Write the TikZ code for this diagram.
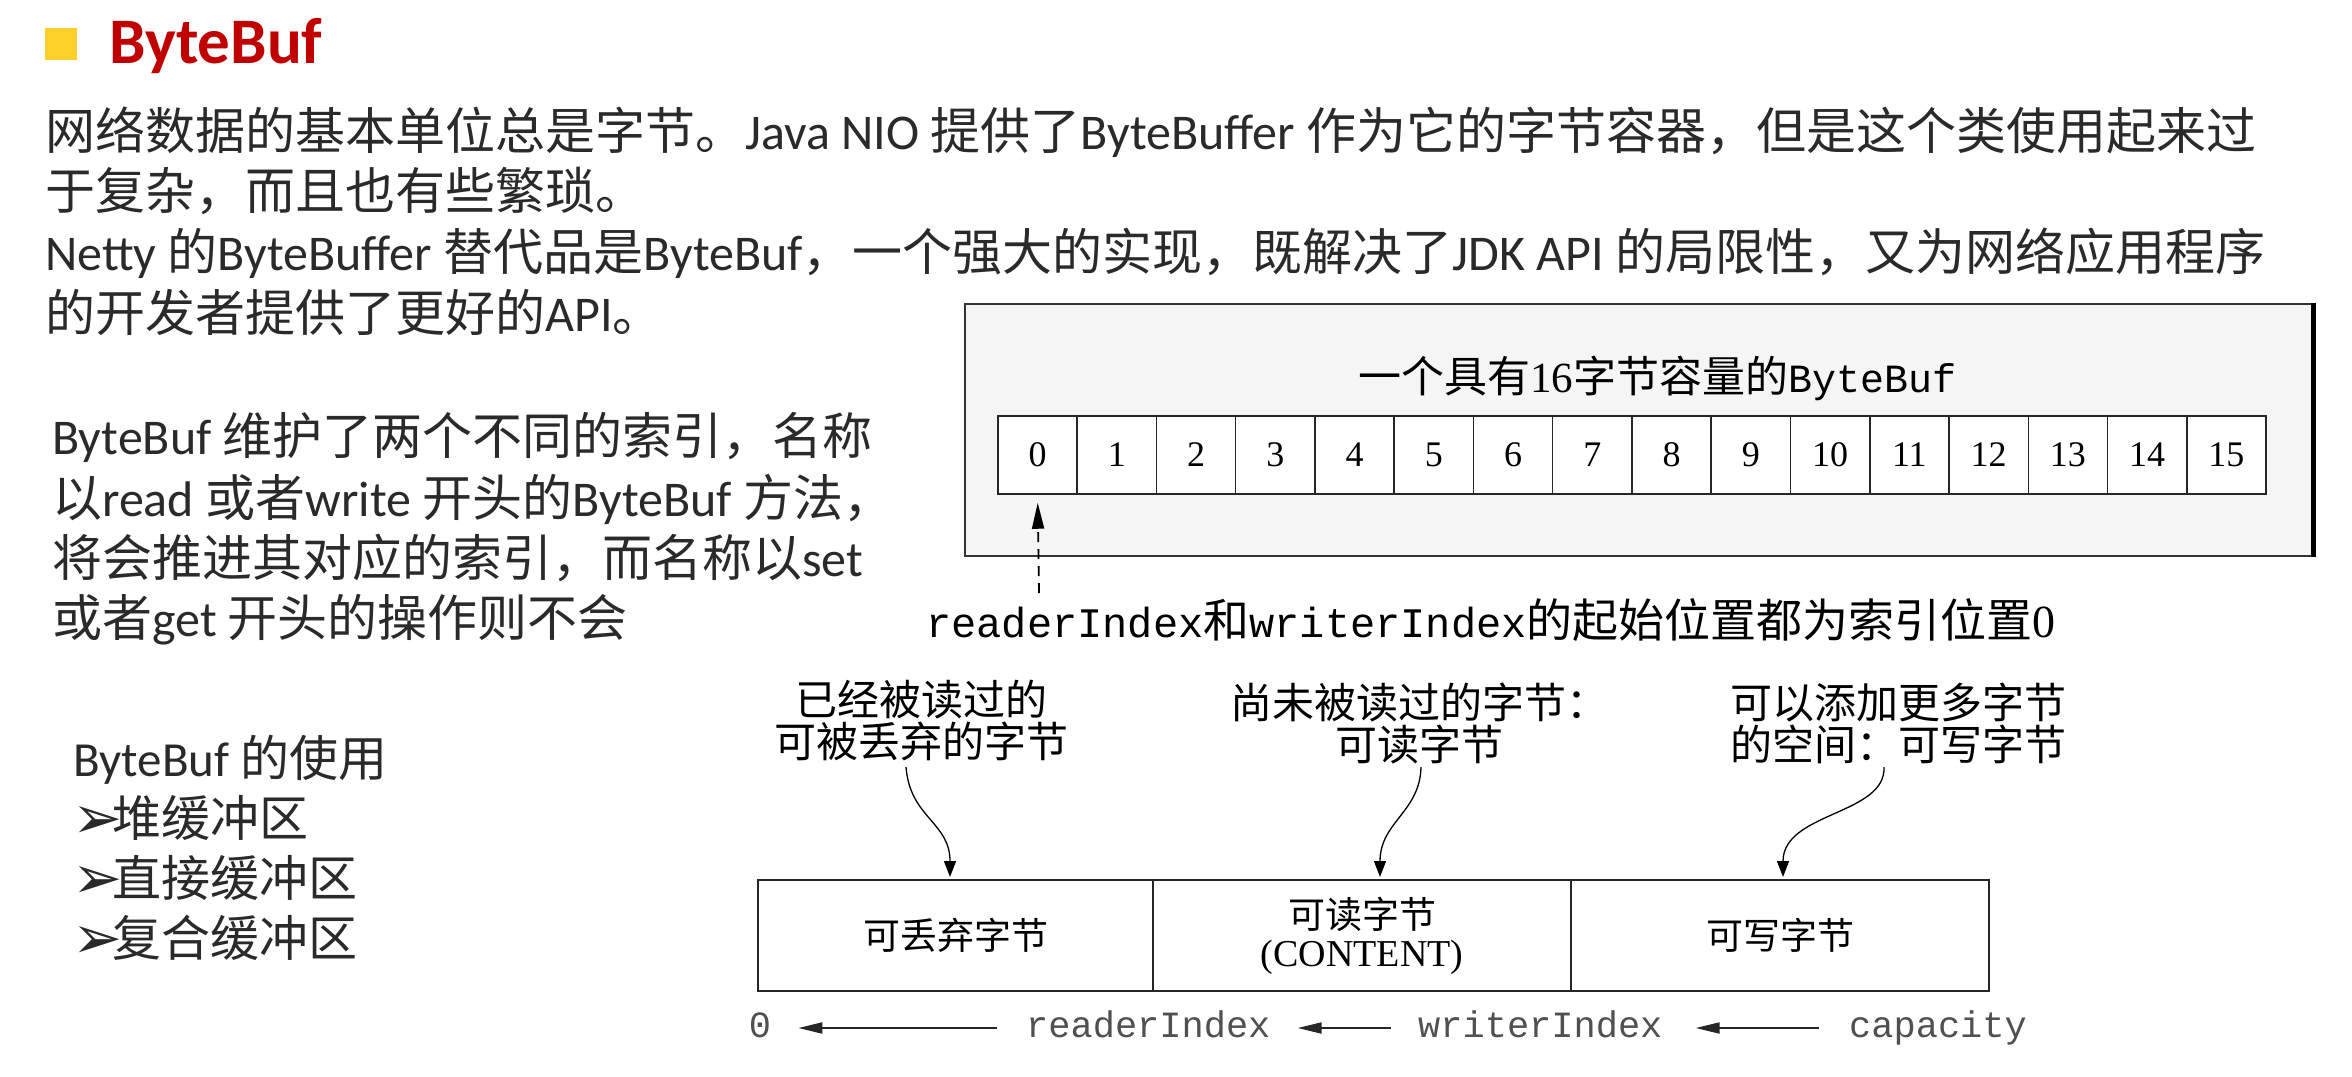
\documentclass[tikz,border=0pt]{standalone}
\usepackage{fontspec}
\setmainfont{Noto Sans CJK SC}
\newfontfamily\fcal{Carlito}
\newfontfamily\fserif{Liberation Serif}
\newfontfamily\fmono{Liberation Mono}
\newfontfamily\fsym{DejaVu Sans}
\usetikzlibrary{arrows.meta}
\definecolor{titlered}{HTML}{C00000}
\definecolor{bullety}{HTML}{FFD02A}
\definecolor{txt}{HTML}{2A2A2A}
\definecolor{boxfill}{HTML}{F5F5F5}
\definecolor{idxgray}{HTML}{505050}
\newcommand\La[1]{{\fcal #1}}
\newcommand\Ms[2]{{\fmono\fontsize{#1}{#1}\selectfont #2}}
\newcommand\Sf[2]{{\fserif\fontsize{#1}{#1}\selectfont #2}}
\newcommand\Bul{\makebox[40pt][l]{\fsym\fontsize{60}{60}\selectfont\raisebox{-2pt}{➢}}}
\begin{document}
\begin{tikzpicture}[x=1pt,y=-1pt,
  para/.style={anchor=base west, inner sep=0pt, text=txt, font=\fontsize{50}{60}\selectfont},
  list/.style={anchor=base west, inner sep=0pt, text=txt, font=\fontsize{49}{58}\selectfont},
  cell/.style={draw=black!85, fill=white, line width=1.5pt, minimum width=79.25pt, minimum height=78pt, inner sep=0pt, font=\fserif\fontsize{36}{36}\selectfont},
  seg/.style={draw=black!85, fill=white, line width=2.2pt, inner sep=0pt, minimum height=111pt, align=center, font=\fontsize{37}{38}\selectfont},
  toplbl/.style={inner sep=0pt, align=center, font=\fontsize{42}{42}\selectfont},
  carrow/.style={line width=1.3pt, -{Triangle[length=16pt,width=12pt]}},
  iarrow/.style={line width=2pt, draw=black!85, -{Triangle[length=24pt,width=11pt]}},
  idx/.style={inner sep=0pt, text=idxgray, font=\fmono\fontsize{37}{37}\selectfont}
]
\fill[white] (0,0) rectangle (2352,1076);
\useasboundingbox (0,0) rectangle (2352,1076);

% title
\node[fill=bullety, minimum size=32pt, inner sep=0pt] (sq) at (61,44) {};
\node[anchor=base west, inner sep=0pt, text=titlered, font=\fcal\bfseries\fontsize{65}{70}\selectfont] (title) at (109,63) {ByteBuf};

% paragraph
\node[para] (p1) at (45,149) {网络数据的基本单位总是字节。\La{Java NIO }提供了\La{ByteBuffer }作为它的字节容器，但是这个类使用起来过};
\node[para] (p2) at (45,209) {于复杂，而且也有些繁琐。};
\node[para] (p3) at (45,270) {\La{Netty }的\La{ByteBuffer }替代品是\La{ByteBuf}，一个强大的实现，既解决了\La{JDK API }的局限性，又为网络应用程序};
\node[para] (p4) at (45,331) {的开发者提供了更好的\La{API}。};

% left block
\node[para] (s1) at (52,454) {\La{ByteBuf }维护了两个不同的索引，名称};
\node[para] (s2) at (52,516) {以\La{read }或者\La{write }开头的\La{ByteBuf }方法，};
\node[para] (s3) at (52,576) {将会推进其对应的索引，而名称以\La{set}};
\node[para] (s4) at (52,636) {或者\La{get }开头的操作则不会};

% list
\node[list] (u0) at (73,776) {\La{ByteBuf }的使用};
\node[list] (u1) at (72,836) {\Bul 堆缓冲区};
\node[list] (u2) at (72,896) {\Bul 直接缓冲区};
\node[list] (u3) at (72,956) {\Bul 复合缓冲区};

% upper diagram
\node[draw=black!80, fill=boxfill, line width=2.5pt, minimum width=1347pt, minimum height=252pt, inner sep=0pt] (outer) at (1638.5,430) {};
\draw[line width=5pt] (outer.north east) -- (outer.south east);
\node[inner sep=0pt, font=\fontsize{43}{43}\selectfont] (otitle) at (1657,378) {一个具有\Sf{43}{16}字节容量的\Ms{40}{ByteBuf}};
\foreach \i in {0,...,15} {
  \node[cell] (c\i) at ({998+79.25*\i+39.6},455) {\i};
}
\coordinate (d0) at (1039,593);
\draw[line width=1.8pt, dash pattern=on 10pt off 7pt, -{Triangle[length=26pt,width=12pt]}, shorten >=8pt] (d0) -- (c0.south);
\node[anchor=base west, inner sep=0pt, font=\fontsize{46}{46}\selectfont] (dlbl) at (926,637) {\Ms{42}{readerIndex}和\Ms{42}{writerIndex}的起始位置都为索引位置\Sf{46}{0}};

% lower diagram
\node[toplbl] (t1) at (921,720) {已经被读过的\\可被丢弃的字节};
\node[toplbl] (t2) at (1419,723) {尚未被读过的字节：\\可读字节};
\node[toplbl] (t3) at (1898,723) {可以添加更多字节\\的空间：可写字节};

\node[seg, minimum width=395pt] (dis) at (955.5,935.5) {可丢弃字节};
\node[seg, minimum width=418pt] (rd) at (1362,935.5) {可读字节\\\Sf{38}{(CONTENT)}};
\node[seg, minimum width=418pt] (wr) at (1780,935.5) {\raisebox{-8pt}{可写字节}};

\coordinate (a1s) at (906,767);
\coordinate (a1e) at (950,877);
\coordinate (a2s) at (1421,767);
\coordinate (a2e) at (1380,877);
\coordinate (a3s) at (1884,767);
\coordinate (a3e) at (1783,877);
\draw[carrow] (a1s) .. controls (910,818) and (950,822) .. (a1e);
\draw[carrow] (a2s) .. controls (1420,812) and (1380,822) .. (a2e);
\draw[carrow] (a3s) .. controls (1886,815) and (1783,812) .. (a3e);

\node[idx, anchor=base] (z0) at (760,1037) {0};
\node[idx, anchor=base west] (ri) at (1026,1037) {readerIndex};
\node[idx, anchor=base west] (wi) at (1418,1037) {writerIndex};
\node[idx, anchor=base west] (cap) at (1849,1037) {capacity};
\draw[iarrow] ([xshift=-29pt,yshift=9pt]ri.base west) -- ([xshift=27pt,yshift=9pt]z0.base east);
\draw[iarrow] ([xshift=-27pt,yshift=9pt]wi.base west) -- ([xshift=27pt,yshift=9pt]ri.base east);
\draw[iarrow] ([xshift=-30pt,yshift=9pt]cap.base west) -- ([xshift=33pt,yshift=9pt]wi.base east);
\end{tikzpicture}
\end{document}
